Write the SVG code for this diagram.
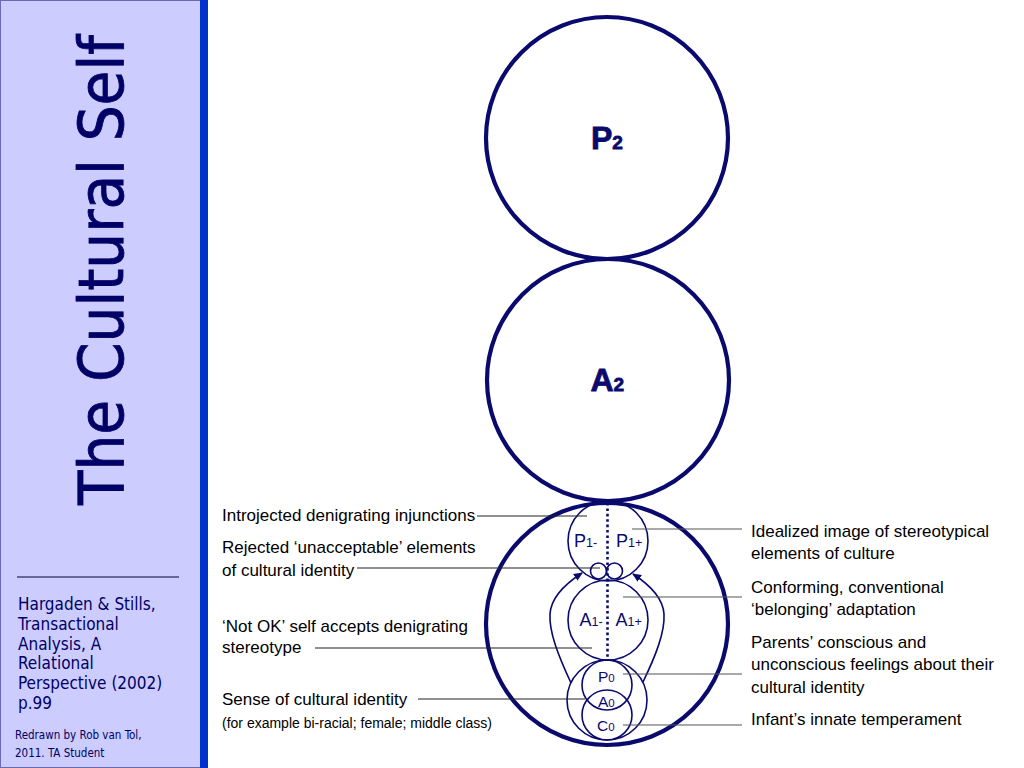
<svg xmlns="http://www.w3.org/2000/svg" width="1024" height="768" viewBox="0 0 1024 768">
<style>
.big{fill:none;stroke:#0a0a6e;stroke-width:4.2}
.thin{fill:none;stroke:#0a0a6e;stroke-width:1.6}
.lbl{font-family:"Liberation Sans",Arial,sans-serif;font-size:17px;fill:#000}
.small{font-family:"Liberation Sans",Arial,sans-serif;font-size:14px;fill:#000}
.ego{font-family:"Liberation Sans",Arial,sans-serif;fill:#0a0a6e}
.heavy{stroke:#0a0a6e;stroke-width:0.8}
.side{font-family:"DejaVu Sans Condensed","DejaVu Sans",sans-serif;fill:#000066}
.lead{stroke:#222;stroke-width:1.2}
.leadr{stroke:#555;stroke-width:1.2}
</style>
<defs>
<marker id="ah" markerWidth="10" markerHeight="10" refX="8" refY="5" orient="auto" markerUnits="userSpaceOnUse">
<path d="M0,1 L9,5 L0,9 Z" fill="#0a0a6e"/>
</marker>
</defs>
<rect x="0" y="0" width="1024" height="768" fill="#fff"/>
<g id="sidebar">
<rect x="0.5" y="0.5" width="200" height="767" fill="#ccccff" stroke="#6a6ab0" stroke-width="1"/>
<rect x="200" y="0" width="8" height="768" fill="#0033cc"/>
<text class="side" transform="translate(123,505) rotate(-90)" font-size="63" textLength="470" lengthAdjust="spacingAndGlyphs" stroke="#000066" stroke-width="0.8">The Cultural Self</text>
<line x1="17" y1="577" x2="179" y2="577" stroke="#000033" stroke-width="1.2"/>
<text class="side" font-size="17">
<tspan x="18" y="610">Hargaden &amp; Stills,</tspan>
<tspan x="18" y="630">Transactional</tspan>
<tspan x="18" y="650">Analysis, A</tspan>
<tspan x="18" y="669">Relational</tspan>
<tspan x="18" y="689">Perspective (2002)</tspan>
<tspan x="18" y="709">p.99</tspan>
</text>
<text class="side" font-size="11.5">
<tspan x="15" y="739">Redrawn by Rob van Tol,</tspan>
<tspan x="15" y="757">2011. TA Student</tspan>
</text>
</g>
<g id="P2">
<circle class="big" cx="607" cy="138" r="121"/>
<text class="ego heavy" x="591" y="149" font-size="32" font-weight="bold">P<tspan font-size="19">2</tspan></text>
</g>
<g id="A2">
<circle class="big" cx="608" cy="380" r="121"/>
<text class="ego heavy" x="590.5" y="391" font-size="32" font-weight="bold">A<tspan font-size="19">2</tspan></text>
</g>
<g id="C2">
<circle class="big" cx="607" cy="624" r="121"/>
</g>
<g id="P1">
<circle class="thin" cx="608" cy="541" r="40"/>
<text class="ego" x="574" y="547" font-size="18">P<tspan font-size="12.5">1-</tspan></text>
<text class="ego" x="616" y="547" font-size="18">P<tspan font-size="12.5">1+</tspan></text>
</g>
<g id="rejected">
<circle class="thin" cx="598.5" cy="571" r="8"/>
<circle class="thin" cx="614.5" cy="571" r="8"/>
</g>
<g id="A1">
<circle class="thin" cx="608" cy="620" r="40"/>
<text class="ego" x="579.5" y="626" font-size="18">A<tspan font-size="12.5">1-</tspan></text>
<text class="ego" x="615.5" y="626" font-size="18">A<tspan font-size="12.5">1+</tspan></text>
</g>
<g id="C1">
<circle class="thin" cx="607" cy="700" r="40"/>
</g>
<g id="P0">
<circle class="thin" cx="607" cy="685" r="25"/>
<text class="ego" x="598" y="682" font-size="15.5">P<tspan font-size="11.5">0</tspan></text>
</g>
<g id="A0">
<text class="ego" x="598" y="706.5" font-size="15.5">A<tspan font-size="11.5">0</tspan></text>
</g>
<g id="C0">
<circle class="thin" cx="607" cy="715" r="25"/>
<text class="ego" x="597" y="731" font-size="15.5">C<tspan font-size="11.5">0</tspan></text>
</g>
<g id="connectors">
<line x1="607.5" y1="503" x2="607.5" y2="658" stroke="#0a0a6e" stroke-width="2.6" stroke-dasharray="2.6 2.8"/>
<path class="thin" d="M571,683 C558,655 549,632 550,614 C551,598 565,584 582,573" marker-end="url(#ah)"/>
<path class="thin" d="M643,682 C656,655 665,632 664,614 C663,598 650,585 633,574" marker-end="url(#ah)"/>
<line class="lead" x1="477" y1="516" x2="587" y2="516"/>
<line class="lead" x1="357" y1="568" x2="600" y2="568"/>
<line class="lead" x1="315" y1="648" x2="592" y2="648"/>
<line class="lead" x1="418" y1="699" x2="585" y2="699"/>
<line class="leadr" x1="632" y1="529" x2="742" y2="529"/>
<line class="leadr" x1="623" y1="597" x2="742" y2="597"/>
<line class="leadr" x1="623" y1="674" x2="742" y2="674"/>
<line class="leadr" x1="623" y1="725" x2="742" y2="725"/>
</g>
<g id="labels-left">
<text class="lbl" x="222" y="521">Introjected denigrating injunctions</text>
<text class="lbl"><tspan x="222" y="553">Rejected ‘unacceptable’ elements</tspan><tspan x="222" y="576">of cultural identity</tspan></text>
<text class="lbl"><tspan x="222" y="632">‘Not OK’ self accepts denigrating</tspan><tspan x="222" y="653">stereotype</tspan></text>
<text class="lbl" x="222" y="705">Sense of cultural identity</text>
<text class="small" x="222" y="728">(for example bi-racial; female; middle class)</text>
</g>
<g id="labels-right">
<text class="lbl"><tspan x="751" y="537">Idealized image of stereotypical</tspan><tspan x="751" y="559">elements of culture</tspan></text>
<text class="lbl"><tspan x="751" y="592.5">Conforming, conventional</tspan><tspan x="751" y="614.5">‘belonging’ adaptation</tspan></text>
<text class="lbl"><tspan x="751" y="648">Parents’ conscious and</tspan><tspan x="751" y="670">unconscious feelings about their</tspan><tspan x="751" y="692.5">cultural identity</tspan></text>
<text class="lbl" x="751" y="725">Infant’s innate temperament</text>
</g>
</svg>
